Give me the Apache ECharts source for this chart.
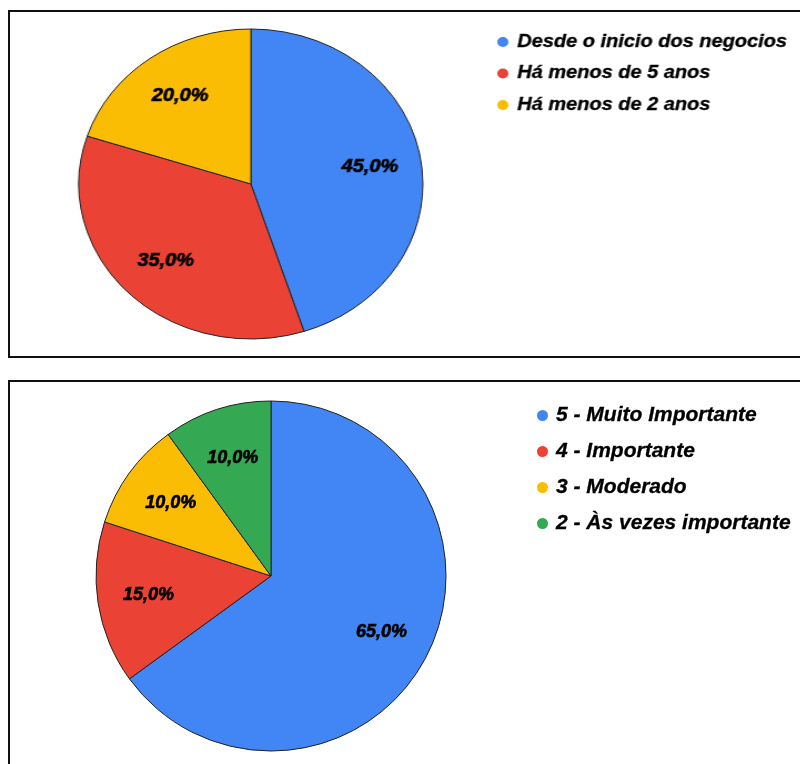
<!DOCTYPE html>
<html>
<head>
<meta charset="utf-8">
<script src="https://cdn.jsdelivr.net/npm/echarts@6/dist/echarts.min.js"></script>
<style>
  html, body { margin: 0; padding: 0; background: #fff; }
  #wrap { position: relative; width: 800px; height: 764px; overflow: hidden; }
  #main { position: absolute; left: 0; top: 0; width: 800px; height: 764px; }
  #upper { position: absolute; left: 0; top: 0; width: 721px; height: 360px;
           transform: scaleX(1.11); transform-origin: 0 0; }
</style>
</head>
<body>
<div id="wrap">
  <div id="main"></div>
  <div id="upper"></div>
</div>
<script>
// Tempo de atuação
const upperCategories = ['Desde o inicio dos negocios', 'Há menos de 5 anos', 'Há menos de 2 anos'];
const upperValues = [45, 35, 20];
const upperColors = ['#4285F4', '#EA4335', '#FBBC04'];

// Grau de importância
const lowerCategories = ['5 - Muito Importante', '4 - Importante', '3 - Moderado', '2 - Às vezes importante'];
const lowerValues = [65, 15, 10, 10];
const lowerColors = ['#4285F4', '#EA4335', '#FBBC04', '#34A853'];

const FONT = '"Liberation Sans", Arial, sans-serif';

function pct(p) {
  return p.percent.toFixed(1).replace('.', ',') + '%';
}

function pieSeries(names, values, colors, center, radius, labelInner, fontSize) {
  const data = names.map((n, i) => ({ name: n, value: values[i], itemStyle: { color: colors[i] } }));
  return [
    {
      type: 'pie',
      center: center,
      radius: radius,
      startAngle: 90,
      clockwise: true,
      avoidLabelOverlap: false,
      animation: false,
      label: { show: false },
      labelLine: { show: false },
      itemStyle: { borderColor: '#222', borderWidth: 1 },
      emphasis: { disabled: true },
      data: data
    },
    {
      // transparent ring that only carries the percentage labels
      type: 'pie',
      center: center,
      radius: [labelInner, radius],
      startAngle: 90,
      clockwise: true,
      silent: true,
      animation: false,
      avoidLabelOverlap: false,
      itemStyle: { color: 'rgba(0,0,0,0)', borderWidth: 0 },
      label: {
        show: true,
        position: 'inside',
        formatter: pct,
        color: '#000',
        fontFamily: FONT,
        fontWeight: 'bold',
        fontStyle: 'italic',
        fontSize: fontSize,
        textBorderColor: '#000',
        textBorderWidth: 0.6
      },
      labelLine: { show: false },
      emphasis: { disabled: true },
      data: names.map((n, i) => ({ name: n, value: values[i] }))
    }
  ];
}

function legendText(size, lh) {
  return {
    fontFamily: FONT, fontWeight: 'bold', fontStyle: 'italic',
    fontSize: size, color: '#000', lineHeight: lh, padding: [0, 0, 0, 3],
    textBorderColor: '#000', textBorderWidth: 0.3
  };
}

// Lower panel, frames
const main = echarts.init(document.getElementById('main'), null, { renderer: 'canvas' });
main.setOption({
  backgroundColor: '#fff',
  animation: false,
  graphic: [
    { type: 'rect', shape: { x: 9, y: 11, width: 820, height: 346 },
      style: { fill: 'none', stroke: '#111', lineWidth: 2 }, z: 0 },
    { type: 'rect', shape: { x: 9, y: 381, width: 820, height: 420 },
      style: { fill: 'none', stroke: '#111', lineWidth: 2 }, z: 0 }
  ],
  legend: {
    orient: 'vertical',
    left: 532,
    top: 399,
    icon: 'circle',
    itemWidth: 11,
    itemHeight: 11,
    itemGap: 13,
    selectedMode: false,
    data: lowerCategories,
    itemStyle: { borderWidth: 0 },
    textStyle: legendText(21, 23)
  },
  series: pieSeries(lowerCategories, lowerValues, lowerColors, [271, 576], 175, 67, 18)
});

// Upper panel (horizontally stretched)
const upper = echarts.init(document.getElementById('upper'), null, { renderer: 'canvas' });
upper.setOption({
  backgroundColor: 'rgba(0,0,0,0)',
  animation: false,
  legend: {
    orient: 'vertical',
    left: 443,
    top: 27,
    icon: 'circle',
    itemWidth: 10,
    itemHeight: 10,
    itemGap: 11.5,
    selectedMode: false,
    data: upperCategories,
    itemStyle: { borderWidth: 0 },
    textStyle: legendText(18, 20)
  },
  series: pieSeries(upperCategories, upperValues, upperColors, [226, 184], 155, 56, 18)
});
</script>
</body>
</html>
